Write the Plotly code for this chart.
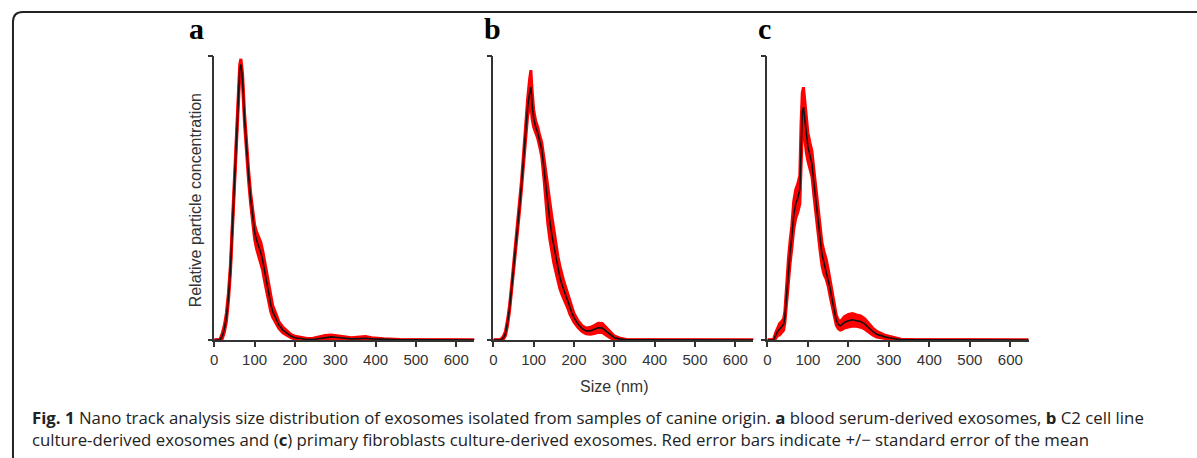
import plotly.graph_objects as go

# ---------------- data ----------------
size_a = [0, 14, 20, 25, 30, 35, 40, 45, 50, 55, 60, 63, 66, 70, 75, 80, 85, 90, 95, 100,
          105, 110, 115, 120, 125, 130, 135, 140, 145, 150, 155, 160, 170, 180, 190, 200,
          215, 230, 245, 260, 275, 290, 305, 320, 340, 360, 375, 390, 420, 460, 520, 645]
mean_a = [0, 0, 0.015, 0.04, 0.08, 0.15, 0.25, 0.40, 0.55, 0.73, 0.89, 0.95, 0.97, 0.92, 0.78, 0.66, 0.58,
          0.50, 0.43, 0.38, 0.35, 0.33, 0.31, 0.28, 0.24, 0.20, 0.16, 0.125, 0.10, 0.085, 0.07,
          0.053, 0.035, 0.024, 0.014, 0.008, 0.004, 0.002, 0.002, 0.005, 0.009, 0.011, 0.009,
          0.006, 0.004, 0.005, 0.006, 0.004, 0.002, 0.001, 0.0005, 0]
se_a = [0, 0.002, 0.01, 0.012, 0.015, 0.015, 0.015, 0.015, 0.015, 0.018, 0.02, 0.02, 0.02, 0.02,
        0.02, 0.02, 0.02, 0.02, 0.02, 0.025, 0.03, 0.035, 0.035, 0.035, 0.035, 0.03, 0.028,
        0.025, 0.02, 0.018, 0.015, 0.012, 0.01, 0.008, 0.006, 0.005, 0.004, 0.003, 0.004,
        0.006, 0.007, 0.007, 0.006, 0.005, 0.004, 0.006, 0.006, 0.004, 0.002, 0.001, 0.0005, 0]

size_b = [0, 18, 25, 30, 35, 40, 45, 50, 55, 60, 65, 70, 75, 80, 85, 90, 93, 96, 100, 105, 110,
          115, 120, 125, 130, 135, 140, 145, 150, 155, 160, 165, 170, 175, 180, 185, 190, 195,
          200, 210, 220, 230, 240, 250, 260, 270, 280, 290, 300, 315, 330, 360, 645]
mean_b = [0, 0, 0.008, 0.023, 0.06, 0.11, 0.18, 0.25, 0.31, 0.39, 0.47, 0.55, 0.64, 0.74, 0.82,
          0.87, 0.89, 0.83, 0.78, 0.75, 0.73, 0.70, 0.67, 0.61, 0.54, 0.47, 0.42, 0.37, 0.33,
          0.29, 0.25, 0.22, 0.195, 0.175, 0.155, 0.135, 0.11, 0.095, 0.078, 0.056, 0.04, 0.032,
          0.032, 0.037, 0.043, 0.042, 0.03, 0.017, 0.008, 0.003, 0.001, 0.0005, 0]
se_b = [0, 0.002, 0.005, 0.008, 0.01, 0.01, 0.01, 0.012, 0.012, 0.015, 0.015, 0.015, 0.02, 0.02,
        0.03, 0.05, 0.06, 0.05, 0.03, 0.02, 0.02, 0.02, 0.025, 0.035, 0.05, 0.06, 0.065, 0.065,
        0.06, 0.05, 0.045, 0.04, 0.035, 0.03, 0.028, 0.025, 0.02, 0.018, 0.015, 0.012, 0.01,
        0.01, 0.012, 0.014, 0.016, 0.016, 0.014, 0.01, 0.006, 0.003, 0.001, 0.0005, 0]

size_c = [0, 15, 20, 25, 30, 35, 40, 43, 47, 52, 56, 60, 65, 70, 75, 80, 83, 86, 89, 92, 96, 100,
          105, 110, 115, 120, 125, 130, 135, 140, 145, 150, 155, 160, 165, 170, 175, 180, 185,
          190, 200, 210, 220, 230, 240, 250, 260, 270, 280, 290, 300, 315, 330, 360, 390, 645]
mean_c = [0, 0, 0.015, 0.03, 0.038, 0.045, 0.055, 0.08, 0.16, 0.25, 0.31, 0.36, 0.44, 0.48,
          0.50, 0.53, 0.70, 0.80, 0.82, 0.78, 0.72, 0.68, 0.65, 0.62, 0.55, 0.48, 0.42, 0.36,
          0.30, 0.27, 0.25, 0.22, 0.18, 0.14, 0.10, 0.07, 0.055, 0.05, 0.055, 0.062, 0.068,
          0.071, 0.068, 0.065, 0.057, 0.043, 0.03, 0.02, 0.015, 0.011, 0.008, 0.004, 0.001,
          0.0005, 0.0003, 0]
se_c = [0, 0.002, 0.01, 0.015, 0.02, 0.02, 0.02, 0.02, 0.03, 0.04, 0.04, 0.04, 0.05, 0.05, 0.05,
        0.05, 0.06, 0.07, 0.07, 0.07, 0.06, 0.05, 0.045, 0.045, 0.045, 0.045, 0.045, 0.045,
        0.04, 0.04, 0.035, 0.03, 0.028, 0.025, 0.02, 0.018, 0.015, 0.015, 0.018, 0.02, 0.022,
        0.022, 0.02, 0.02, 0.018, 0.015, 0.012, 0.01, 0.008, 0.006, 0.005, 0.003, 0.002,
        0.001, 0.001, 0]

x_ticks = [0, 100, 200, 300, 400, 500, 600]
panel_letters = ["a", "b", "c"]
x_title = "Size (nm)"
y_title = "Relative particle concentration"
caption = (
    "<b>Fig. 1</b> Nano track analysis size distribution of exosomes isolated from samples "
    "of canine origin. <b>a</b> blood serum-derived exosomes, <b>b</b> C2 cell line<br>"
    "culture-derived exosomes and (<b>c</b>) primary fibroblasts culture-derived exosomes. "
    "Red error bars indicate +/\u2212 standard error of the mean"
)

# ---------------- layout geometry ----------------
W, H = 1197, 458
def px(x):
    return x / W
def py(y):
    return 1 - y / H

x_domains = [[px(211), px(472)], [px(491), px(752)], [px(766), px(1028)]]
y_domain = [py(340), py(56)]

fig = go.Figure()
panels = [(size_a, mean_a, se_a), (size_b, mean_b, se_b), (size_c, mean_c, se_c)]
for i, (xs, m, s) in enumerate(panels):
    xa = "x" if i == 0 else f"x{i+1}"
    ya = "y" if i == 0 else f"y{i+1}"
    upper = [mm + ss for mm, ss in zip(m, s)]
    lower = [max(mm - ss, 0) for mm, ss in zip(m, s)]
    fig.add_trace(go.Scatter(x=xs, y=lower, mode="lines", line=dict(color="#ff0000", width=3),
                             xaxis=xa, yaxis=ya, showlegend=False, hoverinfo="skip"))
    fig.add_trace(go.Scatter(x=xs, y=upper, mode="lines", line=dict(color="#ff0000", width=3),
                             fill="tonexty", fillcolor="#ff0000",
                             xaxis=xa, yaxis=ya, showlegend=False, hoverinfo="skip"))
    fig.add_trace(go.Scatter(x=xs, y=m, mode="lines", line=dict(color="#111111", width=1.6),
                             xaxis=xa, yaxis=ya, showlegend=False))

axis_common = dict(showgrid=False, zeroline=False, showline=True, linecolor="#333333",
                   linewidth=1.5, ticks="outside", tickcolor="#333333", tickwidth=1.5)
for i in range(3):
    sfx = "" if i == 0 else str(i + 1)
    fig.update_layout({
        f"xaxis{sfx}": dict(domain=x_domains[i], anchor=f"y{sfx}", range=[0, 645],
                            tickvals=x_ticks, ticklen=5,
                            tickfont=dict(family="Liberation Sans, Arial", size=15, color="#333333"),
                            **axis_common),
        f"yaxis{sfx}": dict(domain=y_domain, anchor=f"x{sfx}", range=[0, 1],
                            tickvals=[0, 1], ticklen=5, showticklabels=False,
                            **axis_common),
    })

annotations = []
letter_x = [193, 490, 763]
for lx, letter in zip(letter_x, panel_letters):
    annotations.append(dict(x=px(lx), y=py(47), xref="paper", yref="paper", text=f"<b>{letter}</b>",
                            showarrow=False, xanchor="center", yanchor="bottom",
                            font=dict(family="Liberation Serif, Times New Roman", size=30, color="#000")))
annotations.append(dict(x=px(612), y=py(386), xref="paper", yref="paper", text=x_title,
                        showarrow=False, xanchor="center", yanchor="middle",
                        font=dict(family="Liberation Sans, Arial", size=16, color="#333333")))
annotations.append(dict(x=px(192), y=py(200), xref="paper", yref="paper", text=y_title,
                        showarrow=False, xanchor="center", yanchor="middle", textangle=-90,
                        font=dict(family="Liberation Sans, Arial", size=16, color="#333333")))
annotations.append(dict(x=px(26), y=py(428), xref="paper", yref="paper", text=caption,
                        showarrow=False, xanchor="left", yanchor="middle", align="left",
                        font=dict(family="Open Sans", size=16.8, color="#222222")))

# rounded frame (top-left corner only, edges run off the image)
r = 10
frame = (f"M {px(9)} {py(H + 5)} L {px(9)} {py(12 + r)} "
         f"Q {px(9)} {py(12)} {px(9 + r)} {py(12)} L {px(W + 5)} {py(12)}")

fig.update_layout(
    width=W, height=H, margin=dict(l=0, r=0, t=0, b=0),
    paper_bgcolor="white", plot_bgcolor="white",
    annotations=annotations,
    shapes=[dict(type="path", path=frame, xref="paper", yref="paper",
                 line=dict(color="#222222", width=2))],
)

fig.write_html("out.html", config={"displayModeBar": False},
               post_script="document.body.style.margin='0px';document.body.style.overflow='hidden';")
